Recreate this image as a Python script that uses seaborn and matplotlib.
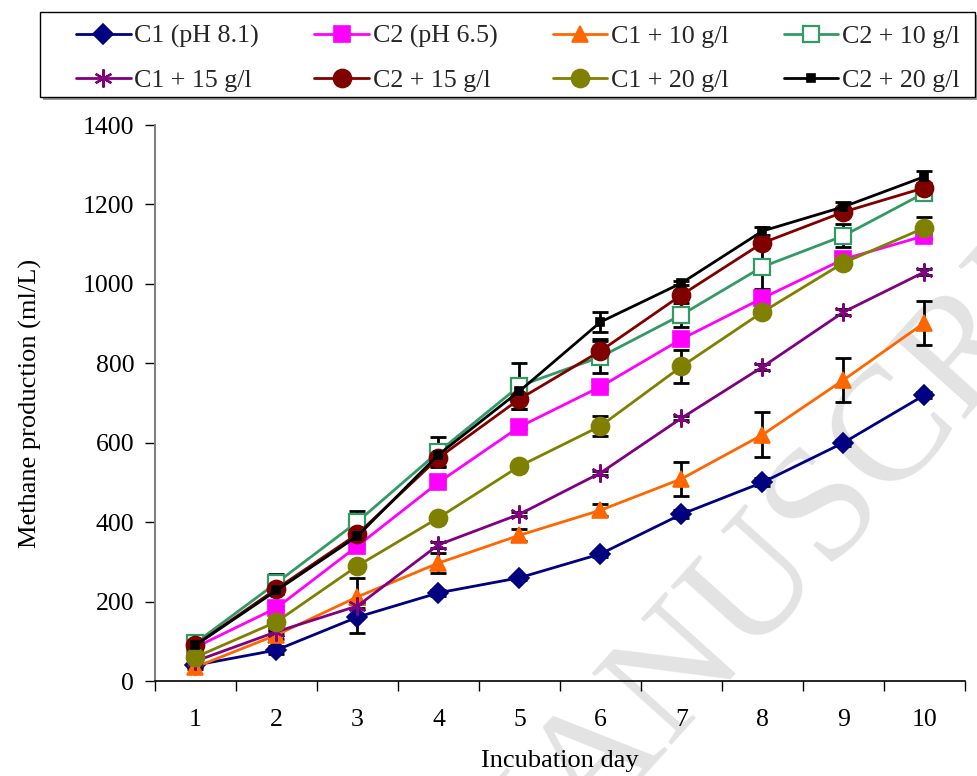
import matplotlib
matplotlib.use("Agg")
import matplotlib.pyplot as plt
from matplotlib.patches import Rectangle
import seaborn as sns
import numpy as np

sns.set_theme(style="white")
plt.rcParams['font.family'] = ['Liberation Serif', 'DejaVu Serif']

days = [1, 2, 3, 4, 5, 6, 7, 8, 9, 10]

series_names = ["C1 (pH 8.1)", "C2 (pH 6.5)", "C1 + 10 g/l", "C2 + 10 g/l",
                "C1 + 15 g/l", "C2 + 15 g/l", "C1 + 20 g/l", "C2 + 20 g/l"]

c1_ph81 = [40, 78, 161, 222, 260, 320, 420, 500, 600, 720]
c2_ph65 = [85, 184, 340, 500, 640, 741, 861, 964, 1062, 1121]
c1_10 = [35, 116, 212, 297, 367, 430, 509, 620, 758, 902]
c2_10 = [96, 247, 401, 577, 743, 816, 922, 1043, 1121, 1229]
c1_15 = [50, 124, 189, 343, 420, 524, 662, 791, 929, 1030]
c2_15 = [91, 232, 370, 562, 710, 831, 972, 1103, 1181, 1242]
c1_20 = [60, 149, 290, 411, 541, 642, 792, 929, 1053, 1141]
c2_20 = [90, 228, 365, 570, 730, 904, 1002, 1133, 1194, 1270]

err_c1_ph81 = [5, 10, 40, 8, 5, 8, 10, 10, 8, 8]
err_c2_ph65 = [5, 5, 5, 5, 5, 5, 5, 5, 5, 5]
err_c1_10 = [5, 10, 47, 25, 15, 15, 42, 57, 56, 56]
err_c2_10 = [8, 22, 27, 38, 57, 40, 30, 55, 29, 15]
err_c1_15 = [5, 5, 5, 8, 5, 5, 5, 8, 8, 8]
err_c2_15 = [5, 8, 10, 20, 25, 30, 10, 10, 10, 10]
err_c1_20 = [5, 5, 5, 5, 5, 26, 42, 10, 10, 28]
err_c2_20 = [5, 10, 10, 10, 10, 25, 5, 10, 12, 15]

values = [c1_ph81, c2_ph65, c1_10, c2_10, c1_15, c2_15, c1_20, c2_20]
errors = [err_c1_ph81, err_c2_ph65, err_c1_10, err_c2_10, err_c1_15, err_c2_15, err_c1_20, err_c2_20]

colors = ["#000080", "#FF00FF", "#FF6600", "#339966", "#800080", "#800000", "#808000", "#000000"]
markers = ["D", "s", "^", "s", (6, 2, 0), "o", "o", "s"]
msizes = [10, 11, 12, 11, 13, 13, 13, 6]
filled = [True, True, True, False, True, True, True, True]

W, H = 978, 776
fig = plt.figure(figsize=(W / 100, H / 100), dpi=100)
ax = fig.add_axes([155 / W, 1 - 681 / H, 810 / W, 556 / H])
ax.patch.set_alpha(0.0)

# watermark (behind everything)
fig.text(815 / W, 1 - 522 / H, "MANUSCRIPT", fontsize=118, color="#e3e3e3",
         rotation=48, ha="center", va="center", zorder=-5)

# error bars (behind markers)
for vals, errs in zip(values, errors):
    ax.errorbar(days, vals, yerr=errs, fmt="none", ecolor="black",
                elinewidth=2.0, capsize=6, capthick=2.0, zorder=2)

handles = []
for name, vals, col, mk, ms, fl in zip(series_names, values, colors, markers, msizes, filled):
    kw = dict(marker=mk, markersize=ms, markeredgecolor=col,
              markerfacecolor=(col if fl else "white"),
              markeredgewidth=(1.6 if not fl else 1.2))
    if mk == (6, 2, 0):
        kw["markeredgewidth"] = 1.6
    sns.lineplot(x=days, y=vals, ax=ax, color=col, linewidth=2.0,
                 label=name, legend=False, zorder=3, **kw)
    handles.append(ax.lines[-1])

ax.set_xlim(0.5, 10.5)
ax.set_ylim(0, 1400)
ax.set_yticks(np.arange(0, 1401, 200))
ax.set_xticks(days)
ax.set_xticks(np.arange(0.5, 10.51, 1.0), minor=True)
ax.tick_params(axis="x", which="major", length=0, labelsize=18.5, pad=20, colors="black")
ax.tick_params(axis="x", which="minor", length=7, width=1, direction="out", colors="black", bottom=True)
ax.tick_params(axis="y", which="major", length=7, width=1, direction="out", labelsize=18.5, pad=8, colors="black", left=True)
for s in ["top", "right"]:
    ax.spines[s].set_visible(False)
ax.spines["left"].set_color("#808080")
ax.spines["left"].set_linewidth(1.5)
ax.spines["bottom"].set_color("black")
ax.spines["bottom"].set_linewidth(1.2)
ax.set_xlabel("Incubation day", fontsize=19, labelpad=14, color="black")
ax.set_ylabel("Methane production (ml/L)", fontsize=19, labelpad=29, color="black")
ax.grid(False)

# legend frame with shadow (drawn manually, Excel-style box)
fig.add_artist(Rectangle((43 / W, 1 - 100 / H), 935 / W, 85 / H, transform=fig.transFigure,
                         facecolor="#9a9a9a", edgecolor="none", zorder=4))
fig.add_artist(Rectangle((40 / W, 1 - 97 / H), 935 / W, 85 / H, transform=fig.transFigure,
                         facecolor="white", edgecolor="black", linewidth=1.0, zorder=5))

# legend: row-wise order with 4 columns
order = [0, 4, 1, 5, 2, 6, 3, 7]
leg = fig.legend([handles[i] for i in order], [series_names[i] for i in order],
                 loc="center left", bbox_to_anchor=(76 / W, 1 - 101 / H, 884 / W, 85 / H),
                 mode="expand", ncol=4, fontsize=18.7, frameon=False,
                 handlelength=2.1, handletextpad=0.15,
                 borderaxespad=0, columnspacing=1.0, labelspacing=0.8, borderpad=0.0)
leg.set_zorder(6)

fig.savefig("out.png", dpi=100)
